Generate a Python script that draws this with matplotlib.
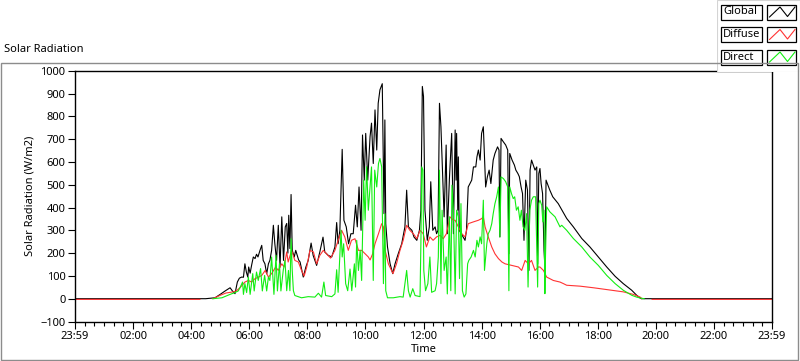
import matplotlib.pyplot as plt
import numpy as np
from matplotlib.patches import Rectangle
from matplotlib.lines import Line2D
from matplotlib.ticker import MultipleLocator

plt.rcParams['font.family'] = ['Noto Sans', 'DejaVu Sans']

nan = float('nan')

# time in hours after 23:59 of the previous day
glob_t = [0.0, 4.5, 4.82, 5.0, 5.17, 5.34, 5.42, 5.51, 5.59, 5.66, 5.74, 5.8, 5.85, 5.9, 5.95,
          5.98, 6.03, 6.08, 6.14, 6.2, 6.25, 6.3, 6.37, 6.43, 6.48, 6.54, 6.6, 6.66, 6.71,
          6.77, 6.83, 6.88, 6.94, 7.0, 7.06, 7.12, 7.18, 7.24, 7.29, 7.33, 7.36, 7.4, 7.44,
          7.48, 7.55, 7.6, 7.7, 7.75, 7.86, 7.95, 8.03, 8.13, 8.2, 8.32, 8.43, 8.54, 8.6,
          8.72, 8.84, 8.95, 9.01, 9.06, 9.12, 9.2, 9.26, 9.34, 9.42, 9.5, 9.58, 9.66, 9.72,
          9.78, 9.85, 9.9, 9.96, 10.01, 10.08, 10.16, 10.21, 10.27, 10.33, 10.39, 10.44,
          10.5, 10.58, 10.64, 10.67, 10.7, 10.76, 10.85, 10.94, 11.02, 11.13, 11.25, 11.36,
          11.42, 11.48, 11.6, 11.67, 11.77, 11.86, 11.91, 11.96, 12.0, 12.05, 12.13, 12.2,
          12.25, 12.32, 12.4, 12.45, 12.5, 12.55, 12.6, 12.66, 12.71, 12.78, 12.82, 12.89,
          12.97, 13.03, 13.09, 13.12, 13.14, 13.18, 13.2, 13.23, 13.3, 13.43, 13.48, 13.54,
          13.6, 13.66, 13.72, 13.8, 13.84, 13.89, 13.95, 14.0, 14.06, 14.1, 14.14, 14.2,
          14.26, 14.32, 14.4, 14.46, 14.55, 14.6, 14.63, 14.67, 14.75, 14.83, 14.9, 14.94,
          14.97, 15.05, 15.13, 15.18, 15.25, 15.3, 15.36, 15.41, 15.46, 15.52, 15.58, 15.63,
          15.67, 15.72, 15.78, 15.84, 15.9, 15.93, 15.97, 16.01, 16.05, 16.1, 16.15, 16.18,
          16.22, 16.35, 16.45, 16.64, 16.8, 16.93, 17.16, 17.45, 17.73, 18.02, 18.31, 18.6,
          18.88, 19.17, 19.34, 19.46, 19.5, 24.0]
glob_v = [0, 0, 4, 19, 34, 48, 34, 22, 73, 90, 95, 94, 153, 117, 95,
          139, 112, 146, 183, 176, 195, 183, 212, 234, 168, 153, 109, 153, 168,
          212, 322, 242, 168, 322, 139, 359, 168, 315, 330, 200, 366, 220, 457,
          212, 183, 212, 170, 161, 95, 139, 168, 244, 190, 146, 205, 270, 205,
          190, 183, 227, 334, 241, 300, 655, 344, 315, 241, 285, 285, 410, 315,
          490, 300, 718, 520, 725, 520, 711, 770, 593, 828, 652, 857,
          916, 943, 373, 784, 329, 227, 153, 110, 153, 197, 241, 315,
          476, 315, 300, 271, 256, 300, 388, 931, 887, 388, 256, 315,
          513, 300, 315, 285, 300, 857, 755, 535, 359, 674, 285, 520,
          725, 285, 740, 520, 725, 388, 622, 300, 285, 256, 300, 490,
          505, 520, 578, 578, 622, 652, 608, 725, 754, 622, 490, 535,
          564, 505, 608, 637, 666, 652, 271, 703, 688, 674, 652, 197,
          637, 608, 586, 564, 549, 535, 490, 461, 256, 520, 476, 124,
          564, 608, 586, 564, 578, 153, 549, 571, 505, 461, 212, 140,
          520, 476, 447, 417, 381, 352, 315, 264, 227, 183, 139, 98,
          66, 37, 15, 3, 0, 0]

diff_t = [0.0, 4.3, 4.5, 4.75, 5.0, 5.2, 5.45, 5.55, 5.68, 5.85, 5.97, 6.08, 6.2, 6.32, 6.43,
          6.55, 6.66, 6.77, 6.91, 7.0, 7.12, 7.2, 7.29, 7.34, 7.46, 7.57, 7.69, 7.8, 7.89,
          7.98, 8.09, 8.21, 8.32, 8.43, 8.55, 8.66, 8.8, 8.95, 9.06, 9.18, 9.29, 9.41, 9.52,
          9.64, 9.76, 9.87, 9.99, 10.1, 10.16, 10.25, 10.33, 10.45, 10.56, 10.62, 10.68,
          10.79, 10.95, 11.07, 11.19, 11.3, 11.42, 11.53, 11.65, 11.77, 11.88, 11.99, 12.1,
          12.22, 12.33, 12.45, 12.57, 12.68, 12.79, 12.91, 13.03, 13.09, 13.2, 13.32, 13.43,
          13.54, 13.72, 13.89, 14.0, 14.06, 14.12, 14.23, 14.35, 14.46, 14.58, 14.7, 14.81,
          15.04, 15.27, 15.38, 15.5, 15.61, 15.72, 15.84, 15.95, 16.01, 16.13, 16.24, 16.47,
          16.7, 16.82, 16.93, 17.39, 17.85, 18.31, 18.88, 19.22, 19.46, 19.52, 19.7, 19.87,
          24.0]
diff_v = [-3, -3, nan, 0, 15, 25, 30, 34, 48, 73, 80, 73, 88, 95, 102,
          124, 95, 110, 139, 124, 153, 139, 205, 161, 212, 168, 161, 124, 99,
          139, 212, 205, 153, 190, 212, 197, 178, 212, 256, 300, 271, 212, 256,
          263, 212, 212, 197, 183, 170, 197, 241, 285, 329, 315, 212,
          153, 110, 153, 212, 256, 322, 300, 285, 263, 300, 285, 227,
          271, 256, 271, 278, 263, 285, 359, 344, 344, 315, 285, 271,
          329, 337, 344, 351, 359, 315, 271, 227, 197, 176, 161, 153,
          146, 139, 124, 168, 153, 168, 124, 139, 139, 124, 95, 80,
          73, 66, 59, 55, 48, 40, 30, 19, 7, 0, nan, -3,
          -3]

dir_t = [4.75, 5.06, 5.34, 5.51, 5.62, 5.68, 5.77, 5.8, 5.85, 5.91, 5.97, 6.03, 6.12, 6.17,
         6.25, 6.31, 6.39, 6.45, 6.53, 6.6, 6.66, 6.71, 6.77, 6.85, 6.92, 6.97, 7.04, 7.09,
         7.17, 7.23, 7.29, 7.35, 7.4, 7.44, 7.48, 7.52, 7.57, 7.8, 8.03, 8.26, 8.38, 8.49,
         8.57, 8.63, 8.84, 8.95, 9.01, 9.06, 9.16, 9.2, 9.25, 9.32, 9.39, 9.47, 9.53, 9.62,
         9.66, 9.7, 9.76, 9.82, 9.87, 9.94, 9.99, 10.04, 10.1, 10.16, 10.21, 10.27, 10.32,
         10.39, 10.45, 10.5, 10.56, 10.62, 10.67, 10.7, 10.76, 10.96, 11.19, 11.3, 11.42,
         11.48, 11.54, 11.63, 11.71, 11.88, 11.91, 11.94, 11.98, 12.01, 12.07, 12.15, 12.22,
         12.28, 12.4, 12.45, 12.51, 12.55, 12.6, 12.64, 12.71, 12.78, 12.82, 12.89, 12.94,
         12.98, 13.03, 13.09, 13.14, 13.2, 13.24, 13.29, 13.34, 13.4, 13.46, 13.52, 13.56,
         13.64, 13.72, 13.78, 13.84, 13.89, 13.95, 14.0, 14.06, 14.1, 14.18, 14.23, 14.29,
         14.35, 14.4, 14.46, 14.52, 14.58, 14.63, 14.67, 14.75, 14.83, 14.9, 14.94, 14.97,
         15.03, 15.09, 15.14, 15.2, 15.26, 15.32, 15.37, 15.43, 15.49, 15.55, 15.6, 15.66,
         15.72, 15.78, 15.86, 15.93, 15.97, 16.01, 16.07, 16.11, 16.15, 16.18, 16.2, 16.24,
         16.35, 16.53, 16.7, 16.76, 16.93, 17.16, 17.45, 17.73, 18.02, 18.31, 18.6, 18.88,
         19.17, 19.34, 19.46, 19.6]
dir_v = [0, 4, 19, 27, 34, 48, 73, 19, 66, 27, 95, 19, 110, 34,
         117, 80, 132, 34, 102, 34, 95, 80, 183, 19, 190, 34, 153, 34,
         124, 168, 35, 124, 35, 263, 124, 35, 14, 4, 9, 7, 24, 7,
         73, 14, 9, 21, 127, 28, 300, 183, 241, 66, 35, 130, 35, 153,
         51, 256, 124, 212, 80, 520, 344, 579, 388, 490, 578, 80, 564,
         490, 593, 615, 578, 66, 373, 35, 4, 4, 9, 7, 124,
         35, 7, 44, 14, 9, 241, 578, 564, 124, 35, 66, 183,
         28, 35, 66, 183, 564, 66, 388, 124, 183, 21, 359, 35,
         498, 388, 21, 388, 359, 88, 417, 35, 7, 21, 153, 168,
         183, 212, 183, 256, 227, 271, 241, 432, 124, 241, 285, 300,
         329, 373, 417, 447, 490, 271, 534, 527, 513, 490, 35, 490,
         461, 439, 447, 388, 403, 344, 388, 315, 300, 373, 51, 388,
         432, 447, 447, 51, 417, 432, 410, 337, 388, 22, 183, 403,
         381, 359, 315, 322, 300, 264, 227, 183, 146, 102, 66, 37,
         15, 7, 3, 0]

tick_hours = [0, 2, 4, 6, 8, 10, 12, 14, 16, 18, 20, 22, 24]
tick_names = ['23:59', '02:00', '04:00', '06:00', '08:00', '10:00', '12:00',
              '14:00', '16:00', '18:00', '20:00', '22:00', '23:59']

W, H = 800, 361
fig = plt.figure(figsize=(8, 3.61), dpi=100)
fig.patch.set_facecolor('white')

def px(x0, y0, x1, y1):
    return [x0 / W, 1 - y1 / H, (x1 - x0) / W, (y1 - y0) / H]

# outer frame
fig.patches.append(Rectangle((0.5 / W, 1 - 359.5 / H), 797.5 / W, 297 / H,
                             transform=fig.transFigure, fill=False,
                             edgecolor='#8c8c8c', lw=1.0))
fig.text(4 / W, 1 - 50 / H, 'Solar Radiation', fontsize=8, va='center', ha='left')

ax = fig.add_axes(px(75, 70.7, 772, 321.5))
ax.plot(glob_t, glob_v, color='black', lw=0.8, zorder=1)
ax.plot(diff_t, diff_v, color='#ff3333', lw=0.8, zorder=2)
ax.plot(dir_t, dir_v, color='#11ee11', lw=0.8, zorder=3)

ax.set_xlim(0, 24)
ax.set_ylim(-100, 1000)
ax.set_yticks(np.arange(-100, 1001, 100))
ax.set_xticks(tick_hours)
ax.set_xticklabels(tick_names)
ax.xaxis.set_minor_locator(MultipleLocator(1 / 3))
ax.tick_params(axis='both', which='major', direction='out', length=5, width=0.8,
               labelsize=8, pad=2)
ax.tick_params(axis='x', which='minor', direction='out', length=3, width=0.8)
for s in ax.spines.values():
    s.set_linewidth(1.0)
ax.set_xlabel('Time', fontsize=8, labelpad=1)
ax.set_ylabel('Solar Radiation (W/m2)', fontsize=8, labelpad=3)

# legend panel
lg = fig.add_axes(px(717, 0, 800, 72))
lg.set_xlim(717, 800)
lg.set_ylim(72, 0)
lg.axis('off')
lg.add_patch(Rectangle((717, 0), 83, 72, facecolor='white', edgecolor='#d4d4d4', lw=0.8))
rows = [('Global', 'black', 4.5), ('Diffuse', '#ff3333', 27), ('Direct', '#11ee11', 49.5)]
for name, col, y0 in rows:
    lg.add_patch(Rectangle((721, y0), 41, 15, facecolor='white', edgecolor='black', lw=0.9))
    lg.text(723, y0 + 7.5, name, fontsize=8, va='center', ha='left')
    lg.add_patch(Rectangle((767.5, y0), 29, 15, facecolor='white', edgecolor='black', lw=0.9))
    lg.add_line(Line2D([769.5, 780, 787.5, 795], [y0 + 12.5, y0 + 2.5, y0 + 12, y0 + 2.5],
                       color=col, lw=0.8))

fig.savefig('out.png', dpi=100)
